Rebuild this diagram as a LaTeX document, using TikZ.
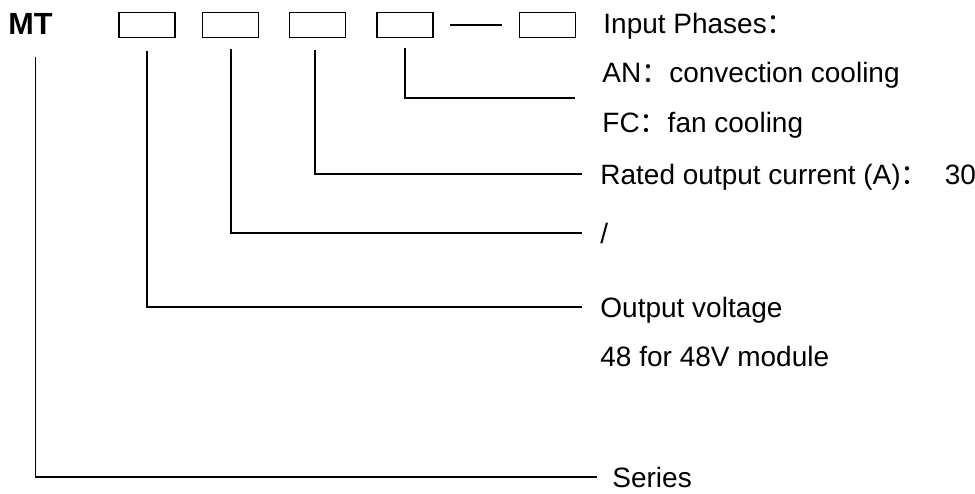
\documentclass[tikz,border=0pt]{standalone}
\usepackage{fontspec}
\setmainfont{Liberation Sans}
\newfontfamily\cjk{Noto Sans CJK SC}
\usetikzlibrary{calc}

\begin{document}
\begin{tikzpicture}[x=0.5pt,y=-0.5pt,
  codebox/.style={draw,line width=0.9pt,minimum width=28pt,minimum height=12.5pt,inner sep=0pt},
  lbl/.style={anchor=base west,inner sep=0pt,font=\fontsize{14}{16}\selectfont},
  lead/.style={line width=0.65pt}]
  \useasboundingbox (0,0) rectangle (975,493);
  % model code
  \node[anchor=base west,inner sep=0pt,font=\fontsize{15.3}{18}\selectfont\bfseries] (mt) at (8,34) {MT};
  \node[codebox] (b1) at (147,25) {};
  \node[codebox] (b2) at (230.5,25) {};
  \node[codebox] (b3) at (317.5,25) {};
  \node[codebox] (b4) at (405,25) {};
  \node[codebox] (b5) at (547.5,25) {};
  \draw[line width=0.8pt] ($(b4.east)+(16,0)$) -- ($(b5.west)-(17,0)$);
  % labels
  \node[lbl] (phase) at (603,33) {Input Phases{\cjk ：}};
  \node[lbl] (an) at (602,82) {AN{\cjk ：}convection cooling};
  \node[lbl] (fc) at (602,132) {FC{\cjk ：}fan cooling};
  \node[lbl] (cur) at (600,184) {Rated output current (A){\cjk ：}\hspace{8pt}30};
  \node[lbl] (sep) at (600,243) {/};
  \node[lbl] (volt) at (600,317) {Output voltage};
  \node[lbl] (mod) at (600,366) {48 for 48V module};
  \node[lbl] (ser) at (612,487) {Series};
  % leader lines
  \coordinate (e4) at (575,98);
  \coordinate (e3) at (582,174);
  \coordinate (e2) at (582,233);
  \coordinate (e1) at (582,307);
  \coordinate (e0) at (597,477);
  \draw[lead] ($(b4.south)+(0,10)$) |- (e4);
  \draw[lead] ($(b3.south)+(-2.5,12)$) |- (e3);
  \draw[lead] ($(b2.south)+(0.5,11)$) |- (e2);
  \draw[lead] ($(b1.south)+(0,13)$) |- (e1);
  \draw[lead] ($(mt.south)+(5,23)$) |- (e0);
\end{tikzpicture}
\end{document}
